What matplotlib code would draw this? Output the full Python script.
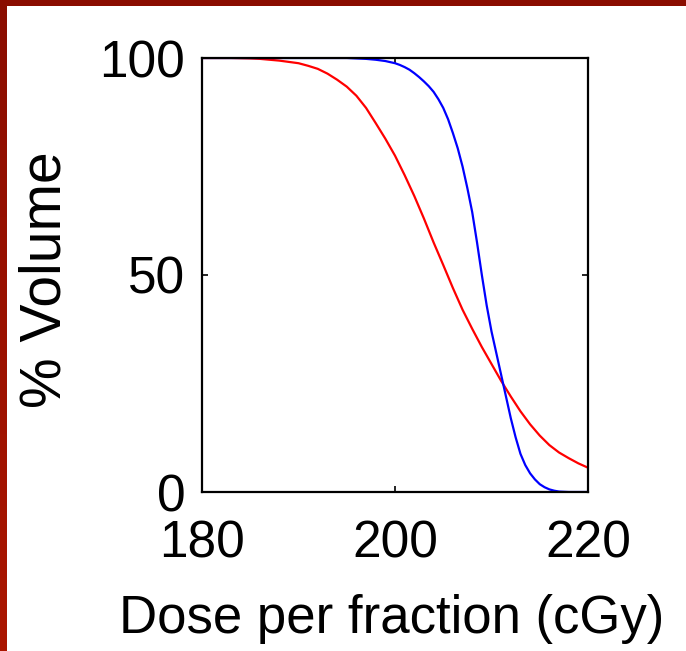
import numpy as np
import matplotlib
matplotlib.use('Agg')
import matplotlib.pyplot as plt

plt.rcParams['font.family'] = ['Liberation Sans', 'DejaVu Sans']

# dose-volume curves
dose_red = [180, 183, 185, 186, 187, 188, 189, 190, 191, 192, 193, 194, 195, 196,
            197, 198, 199, 200, 201, 202, 203, 204, 205, 206, 207, 208, 209,
            210, 211, 212, 213, 214, 215, 216, 217, 218, 219, 220]
vol_red = [100, 100, 99.9, 99.8, 99.6, 99.4, 99.1, 98.8, 98.2, 97.5, 96.4, 95, 93.4, 91.3,
           88.5, 85, 81.4, 77.5, 73, 68.2, 63, 57.5, 52.3, 47, 42, 37.6, 33.4,
           29.5, 25.6, 22, 18.6, 15.6, 13, 10.8, 9.1, 7.8, 6.6, 5.6]

dose_blue = [180, 195, 196, 197, 198, 199, 200, 200.5, 201, 201.5, 202, 202.5, 203,
             203.5, 204, 204.5, 205, 205.5, 206, 206.5, 207, 207.5, 208, 208.5, 209,
             209.5, 210, 210.5, 211, 211.5, 212, 212.5, 213, 213.5, 214, 214.5, 215,
             215.5, 216, 216.5, 217, 218, 220]
vol_blue = [100, 100, 99.9, 99.8, 99.6, 99.3, 98.8, 98.4, 97.9, 97.3, 96.5, 95.6, 94.6,
            93.5, 92.2, 90.5, 88.5, 85.9, 82.7, 79.2, 75, 70, 64.5, 57.5, 50,
            43, 37, 32, 27, 22, 17, 12.6, 8.8, 6.2, 4.3, 2.9, 1.8,
            1.1, 0.6, 0.3, 0.1, 0, 0]

x_ticks = [180, 200, 220]
y_ticks = [0, 50, 100]

fig = plt.figure(figsize=(6.86, 6.51), dpi=100)

# dark red frame on the top and left edges
top = fig.add_axes([0, 1 - 6 / 651, 1, 6 / 651])
top.set_facecolor('#8a0d00')
top.set_xticks([]); top.set_yticks([])
for s in top.spines.values():
    s.set_visible(False)
left = fig.add_axes([0, 0, 7 / 686, 1])
grad = np.linspace(0, 1, 256).reshape(-1, 1)
cmap = matplotlib.colors.LinearSegmentedColormap.from_list('edge', ['#ab1600', '#8a0d00'])
left.imshow(grad, aspect='auto', cmap=cmap, origin='lower', extent=[0, 1, 0, 1])
left.axis('off')

ax = fig.add_axes([202 / 686, 1 - 492 / 651, 386 / 686, 434 / 651])
ax.plot(dose_red, vol_red, color='#ff0000', linewidth=1.6)
ax.plot(dose_blue, vol_blue, color='#0000ff', linewidth=1.6)

ax.set_xlim(180, 220)
ax.set_ylim(0, 100)
ax.set_xticks(x_ticks)
ax.set_yticks(y_ticks)
ax.tick_params(direction='in', length=4, width=1.2, labelsize=37,
               top=True, right=True)
ax.tick_params(axis='y', pad=12)
ax.tick_params(axis='x', pad=20)
for s in ax.spines.values():
    s.set_linewidth(1.6)

ax.set_xlabel('Dose per fraction (cGy)', fontsize=38)
ax.set_ylabel('% Volume', fontsize=41)
ax.xaxis.set_label_coords(0.49, -0.235)
ax.yaxis.set_label_coords(-0.335, 0.49)

fig.savefig('out.png', dpi=100)
